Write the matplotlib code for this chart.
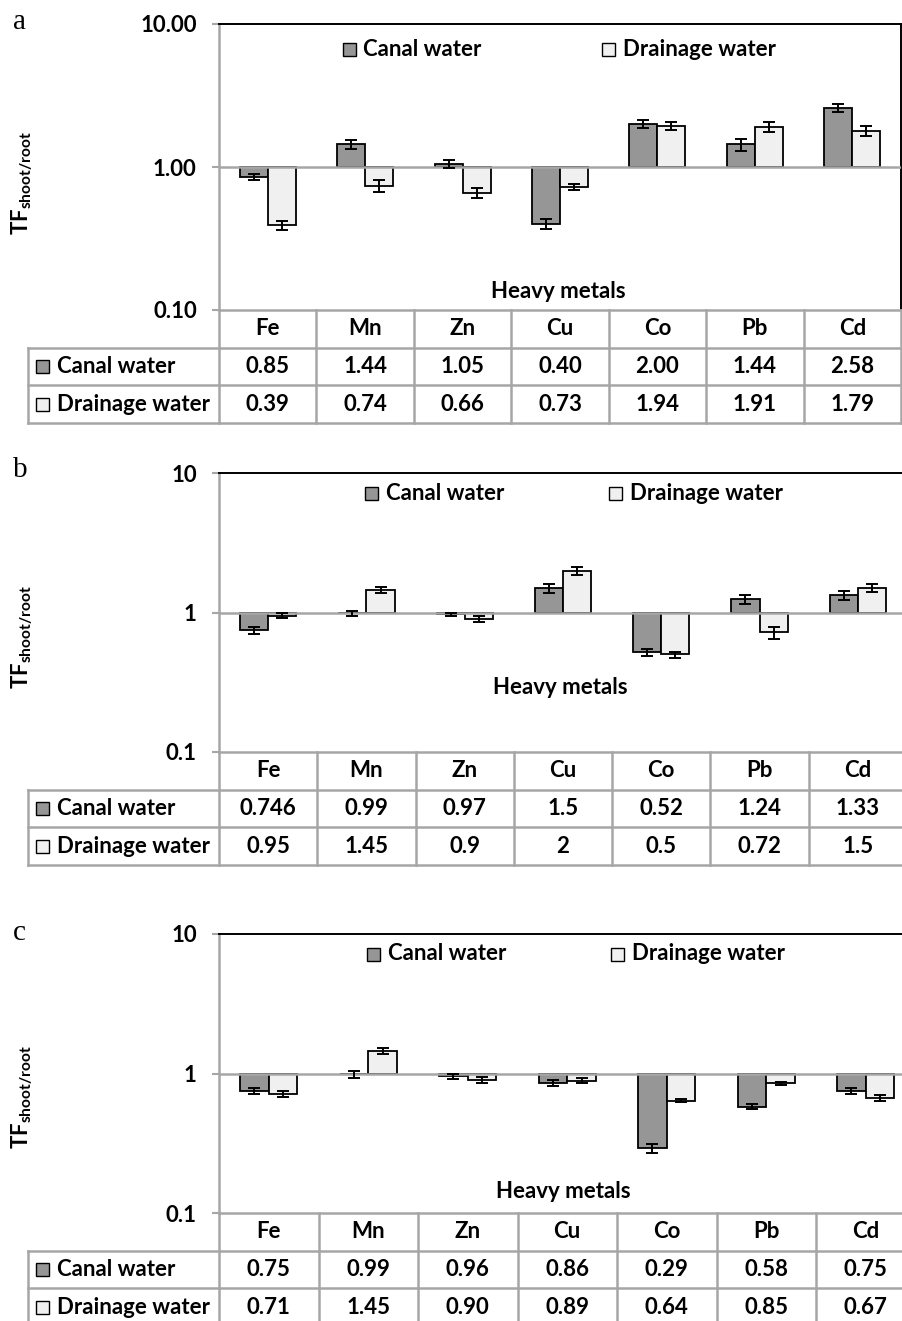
import matplotlib.pyplot as plt
from matplotlib.patches import Rectangle
from matplotlib.ticker import NullLocator
import numpy as np

metals = ["Fe", "Mn", "Zn", "Cu", "Co", "Pb", "Cd"]
series = ["Canal water", "Drainage water"]

# panel a
canal_a = [0.85, 1.44, 1.05, 0.40, 2.00, 1.44, 2.58]
drain_a = [0.39, 0.74, 0.66, 0.73, 1.94, 1.91, 1.79]
canal_err_a = [0.04, 0.11, 0.07, 0.03, 0.13, 0.14, 0.16]
drain_err_a = [0.03, 0.07, 0.05, 0.035, 0.13, 0.14, 0.15]

# panel b
canal_b = [0.746, 0.99, 0.97, 1.5, 0.52, 1.24, 1.33]
drain_b = [0.95, 1.45, 0.9, 2, 0.5, 0.72, 1.5]
canal_err_b = [0.04, 0.04, 0.03, 0.11, 0.03, 0.09, 0.10]
drain_err_b = [0.04, 0.08, 0.04, 0.13, 0.025, 0.07, 0.09]

# panel c
canal_c = [0.75, 0.99, 0.96, 0.86, 0.29, 0.58, 0.75]
drain_c = [0.71, 1.45, 0.90, 0.89, 0.64, 0.85, 0.67]
canal_err_c = [0.035, 0.06, 0.04, 0.04, 0.02, 0.02, 0.04]
drain_err_c = [0.035, 0.07, 0.05, 0.035, 0.02, 0.02, 0.035]

yticks = [0.1, 1, 10]
ticks_a = ["0.10", "1.00", "10.00"]
ticks_bc = ["0.1", "1", "10"]

plt.rcParams['font.family'] = ['Lato', 'DejaVu Sans']
plt.rcParams['font.weight'] = 'bold'
plt.rcParams['mathtext.fontset'] = 'custom'
plt.rcParams['mathtext.bf'] = 'Lato:bold'
plt.rcParams['mathtext.rm'] = 'Lato:bold'

W, H = 902, 1321
AX_L, TAB_L = 219, 28
ROW_H = 37.7
CANAL = '#969696'
DRAIN = '#f0f0f0'
GRID = '#a6a6a6'
FS = 16

fig = plt.figure(figsize=(W / 100, H / 100), dpi=100)


def draw_panel(letter, top, bottom, right, canal, drain, canal_err, drain_err,
               ticklabels, fmt, leg, leg_y, xlab, ylab_y, letter_y):
    ax_h = bottom - top
    ax_w = right - AX_L
    ax = fig.add_axes([AX_L / W, 1 - bottom / H, ax_w / W, ax_h / H])
    x = np.arange(len(metals))
    w = 0.287
    ax.set_yscale('log')
    ax.bar(x - w / 2, np.array(canal) - 1, w, bottom=1, color=CANAL,
           edgecolor='black', linewidth=1.3, zorder=2)
    ax.bar(x + w / 2, np.array(drain) - 1, w, bottom=1, color=DRAIN,
           edgecolor='black', linewidth=1.3, zorder=2)
    ax.axhline(1, color=GRID, linewidth=1.8, zorder=3)
    ax.errorbar(x - w / 2, canal, yerr=canal_err, fmt='none', ecolor='black',
                elinewidth=1.4, capsize=4, capthick=1.4, zorder=4)
    ax.errorbar(x + w / 2, drain, yerr=drain_err, fmt='none', ecolor='black',
                elinewidth=1.4, capsize=4, capthick=1.4, zorder=4)
    ax.set_ylim(0.1, 10)
    ax.set_xlim(-0.5, len(metals) - 0.5)
    ax.set_yticks(yticks)
    ax.set_yticklabels(ticklabels)
    ax.yaxis.set_minor_locator(NullLocator())
    ax.set_xticks([])
    ax.tick_params(axis='y', length=5, width=1.5, color=GRID, pad=11,
                   labelsize=FS)
    for s in ['left', 'bottom']:
        ax.spines[s].set_color(GRID)
        ax.spines[s].set_linewidth(1.8)
    for s in ['top', 'right']:
        ax.spines[s].set_color('black')
        ax.spines[s].set_linewidth(1.4)

    # legend
    ly = 1 - (leg_y - top) / ax_h
    sq_w = 13 / ax_w
    sq_h = 13 / ax_h
    for name, col, (sx, tx) in zip(series, [CANAL, DRAIN], leg):
        ax.add_patch(Rectangle(((sx - AX_L) / ax_w, ly - sq_h / 2), sq_w, sq_h,
                               transform=ax.transAxes, facecolor=col,
                               edgecolor='black', linewidth=1.0, clip_on=False))
        ax.text((tx - AX_L) / ax_w, ly, name, transform=ax.transAxes,
                fontsize=FS, va='center', ha='left')

    ax.text((xlab[0] - AX_L) / ax_w, 1 - (xlab[1] - top) / ax_h, "Heavy metals",
            transform=ax.transAxes, fontsize=FS, ha='center', va='center')

    fig.text(22 / W, 1 - ylab_y / H, r'$\mathbf{TF}_{\mathbf{shoot/root}}$',
             rotation=90, ha='center', va='center', fontsize=FS)
    fig.text(13 / W, 1 - letter_y / H, letter, family='Liberation Serif',
             fontweight='normal', fontsize=21, ha='left', va='center')

    # data table
    col_w = ax_w / len(metals)
    x0 = -0.5 - (AX_L - TAB_L) / col_w
    x1 = len(metals) - 0.5
    tab = fig.add_axes([TAB_L / W, 1 - (bottom + 3 * ROW_H) / H,
                        (right - TAB_L) / W, 3 * ROW_H / H])
    tab.set_xlim(x0, x1)
    tab.set_ylim(3, 0)
    tab.axis('off')
    lw = 1.8
    for r in [1, 2, 3]:
        tab.plot([x0, x1], [r, r], color=GRID, lw=lw, clip_on=False)
    for c in np.arange(len(metals) + 1) - 0.5:
        tab.plot([c, c], [0, 3], color=GRID, lw=lw, clip_on=False)
    tab.plot([x0, x0], [1, 3], color=GRID, lw=lw, clip_on=False)
    for i, m in enumerate(metals):
        tab.text(i, 0.5, m, ha='center', va='center', fontsize=FS)
    for r, (name, col, vals) in enumerate(zip(series, [CANAL, DRAIN], [canal, drain])):
        yc = r + 1.5
        sw = 13 / col_w
        sh = 13 / ROW_H
        tab.add_patch(Rectangle((x0 + 8 / col_w, yc - sh / 2), sw, sh,
                                facecolor=col, edgecolor='black', linewidth=1.0))
        tab.text(x0 + 29 / col_w, yc, name, ha='left', va='center', fontsize=FS)
        for i, v in enumerate(vals):
            tab.text(i, yc, fmt.format(v), ha='center', va='center', fontsize=FS)


draw_panel('a', 24, 310, 901, canal_a, drain_a, canal_err_a, drain_err_a,
           ticks_a, '{:.2f}', [(343, 363), (602, 623)], 49, (558, 292), 183, 22)
draw_panel('b', 473, 752, 907, canal_b, drain_b, canal_err_b, drain_err_b,
           ticks_bc, '{:g}', [(365, 386), (609, 630)], 493, (560, 688), 637, 470)
draw_panel('c', 934, 1213, 915.5, canal_c, drain_c, canal_err_c, drain_err_c,
           ticks_bc, '{:.2f}', [(367, 388), (611, 632)], 954, (563, 1192), 1097, 933)

plt.savefig('out.png', dpi=100)
